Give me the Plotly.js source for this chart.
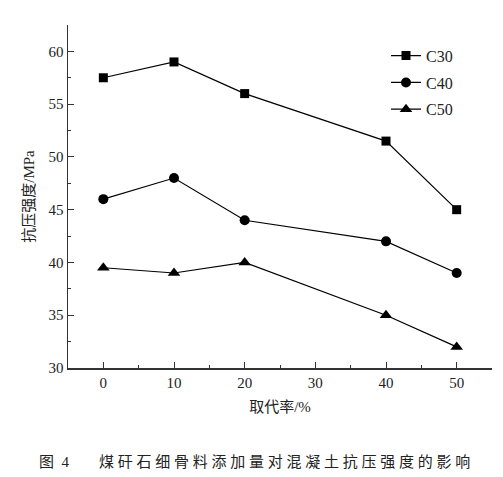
<!DOCTYPE html>
<html>
<head>
<meta charset="utf-8">
<script src="https://cdn.plot.ly/plotly-3.0.1.min.js"></script>
<style>
  html, body { margin: 0; padding: 0; background: #fff; }
  #chart { width: 503px; height: 477px; }
</style>
</head>
<body>
<div id="chart"></div>
<script>
// replacement ratio (%)
var ratio = [0, 10, 20, 40, 50];
var c30 = [57.5, 59, 56, 51.5, 45];
var c40 = [46, 48, 44, 42, 39];
var c50 = [39.5, 39, 40, 35, 32];

var serif = '"Liberation Serif", "Times New Roman", serif';
var cjk = '"Liberation Serif", "Noto Sans CJK SC", serif';

function series(name, y, symbol, size) {
    return {
        x: ratio,
        y: y,
        name: name,
        legendgroup: name,
        type: 'scatter',
        mode: 'lines+markers',
        line: { color: '#000', width: 1.2 },
        marker: { symbol: symbol, size: size, color: '#000' }
    };
}

var data = [
    series('C30', c30, 'square', 9),
    series('C40', c40, 'circle', 10),
    series('C50', c50, 'triangle-up', 11)
];

var axisCommon = {
    showgrid: false,
    zeroline: false,
    showline: true,
    linecolor: '#333',
    linewidth: 1.5,
    ticks: 'inside',
    ticklen: 6,
    tickcolor: '#333',
    tickfont: { family: serif, size: 15, color: '#222' }
};

var nb = '\u00a0';
var caption = '图' + nb + nb + '4' + nb + nb + nb + nb + nb + nb + nb + nb +
    '煤矸石细骨料添加量对混凝土抗压强度的影响'.split('').join(nb);

var layout = {
    width: 503,
    height: 477,
    margin: { l: 68, r: 11, t: 25, b: 109 },
    paper_bgcolor: '#fff',
    plot_bgcolor: '#fff',
    font: { family: cjk, color: '#222' },
    xaxis: Object.assign({}, axisCommon, {
        range: [-5, 55],
        tickvals: [0, 10, 20, 30, 40, 50],
        minor: { tickvals: [5, 15, 25, 35, 45, 55], ticks: 'inside', ticklen: 3, tickcolor: '#333' },
        title: { text: '取代率/%', font: { family: cjk, size: 15 }, standoff: 12 }
    }),
    yaxis: Object.assign({}, axisCommon, {
        range: [30, 62.5],
        tickvals: [30, 35, 40, 45, 50, 55, 60],
        minor: { tickvals: [32.5, 37.5, 42.5, 47.5, 52.5, 57.5, 62.5], ticks: 'inside', ticklen: 3, tickcolor: '#333' },
        title: { text: '抗压强度/MPa', font: { family: cjk, size: 15 }, standoff: 10 }
    }),
    showlegend: true,
    legend: {
        x: 0.75, y: 0.96,
        xanchor: 'left', yanchor: 'top',
        bgcolor: 'rgba(0,0,0,0)',
        font: { family: serif, size: 16, color: '#222' },
        tracegroupgap: 3
    },
    annotations: [{
        xref: 'paper', yref: 'paper',
        x: 0.441, y: -0.245,
        xanchor: 'center', yanchor: 'top',
        showarrow: false,
        text: caption,
        font: { family: cjk, size: 15, color: '#222' }
    }]
};

Plotly.newPlot('chart', data, layout, { displayModeBar: false, staticPlot: true });
</script>
</body>
</html>
